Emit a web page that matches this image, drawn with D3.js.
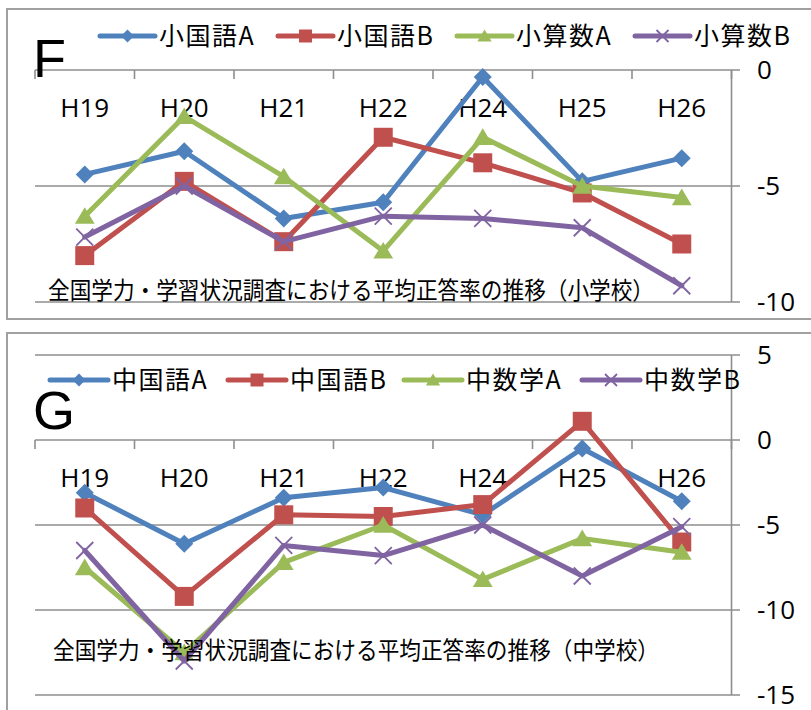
<!DOCTYPE html>
<html lang="ja">
<head>
    <meta charset="UTF-8">
    <title>全国学力・学習状況調査における平均正答率の推移</title>
    <script src="https://d3js.org/d3.v7.min.js"></script>
    <style>
        body { margin: 0; background: #fff; }
        svg { display: block; }
        .grid { stroke: #8e8e8e; stroke-width: 1.6; }
        .tick-label { font: 26px "Open Sans", sans-serif; fill: #000; }
        .legend-label { font: 25px "Noto Sans CJK JP", sans-serif; letter-spacing: 1.5px; fill: #000; }
        .caption { font: 24px "Noto Sans CJK JP", sans-serif; fill: #000; }
        .panel-letter { font: 54px "Liberation Sans", sans-serif; fill: #000; }
        .series-line { fill: none; stroke-width: 5; stroke-linejoin: round; stroke-linecap: round; }
    </style>
</head>
<body>
<svg width="811" height="710"></svg>

<script>
    // 年度
    const years = ["H19", "H20", "H21", "H22", "H24", "H25", "H26"];

    // 小学校
    const shoNames = ["小国語A", "小国語B", "小算数A", "小算数B"];
    const shoKokugoA = [-4.5, -3.5, -6.4, -5.7, -0.3, -4.8, -3.8];
    const shoKokugoB = [-8.0, -4.8, -7.4, -2.9, -4.0, -5.3, -7.5];
    const shoSansuA  = [-6.3, -2.0, -4.6, -7.8, -2.9, -5.0, -5.5];
    const shoSansuB  = [-7.2, -5.0, -7.4, -6.3, -6.4, -6.8, -9.3];
    const shoTicks = [0, -5, -10];

    // 中学校
    const chuNames = ["中国語A", "中国語B", "中数学A", "中数学B"];
    const chuKokugoA = [-3.1, -6.1, -3.4, -2.8, -4.4, -0.5, -3.6];
    const chuKokugoB = [-4.0, -9.2, -4.4, -4.5, -3.8, 1.1, -6.0];
    const chuSugakuA = [-7.5, -12.5, -7.2, -5.0, -8.2, -5.8, -6.6];
    const chuSugakuB = [-6.5, -13.0, -6.2, -6.8, -5.0, -8.0, -5.1];
    const chuTicks = [5, 0, -5, -10, -15];

    const colors = ["#4f81bd", "#c0504d", "#9bbb59", "#8064a2"];
    const shapes = ["diamond", "square", "triangle", "cross"];

    const svg = d3.select("svg");

    function markerPath(shape, s) {
        if (shape === "diamond") return `M0,${-s}L${s},0L0,${s}L${-s},0Z`;
        if (shape === "square") return `M${-s},${-s}H${s}V${s}H${-s}Z`;
        if (shape === "triangle") return `M0,${-s}L${s * 1.1},${s * 0.85}L${-s * 1.1},${s * 0.85}Z`;
        return `M${-s},${-s}L${s},${s}M${-s},${s}L${s},${-s}`;
    }

    function drawMarker(g, shape, color, s) {
        const p = g.append("path").attr("d", markerPath(shape, s));
        if (shape === "cross") p.attr("fill", "none").attr("stroke", color).attr("stroke-width", 1.8);
        else p.attr("fill", color);
    }

    function drawPanel(opt) {
        const g = svg.append("g");

        // 外枠
        g.append("rect")
            .attr("x", 7).attr("y", opt.boxTop)
            .attr("width", 830).attr("height", opt.boxHeight)
            .attr("fill", "#fff").attr("stroke", "#a0a0a0").attr("stroke-width", 2);

        const x = d3.scaleBand().domain(years).range([35, 731.5]);
        const y = d3.scaleLinear().domain(opt.domain).range(opt.range);

        // 目盛線
        g.selectAll(".grid").data(opt.ticks).enter().append("line")
            .attr("class", "grid")
            .attr("x1", 35).attr("x2", 740)
            .attr("y1", d => y(d)).attr("y2", d => y(d));

        // 縦軸（右）
        g.append("line").attr("class", "grid")
            .attr("x1", 731.5).attr("x2", 731.5)
            .attr("y1", y(opt.domain[1])).attr("y2", y(opt.domain[0]));

        // 横軸の目盛（0の位置）
        const edges = years.map(d => x(d)).concat([x(years[6]) + x.bandwidth()]);
        g.selectAll(".xtick").data(edges).enter().append("line")
            .attr("class", "grid")
            .attr("x1", d => d).attr("x2", d => d)
            .attr("y1", y(0)).attr("y2", y(0) + 9);

        g.selectAll(".xlabel").data(years).enter().append("text")
            .attr("class", "tick-label")
            .attr("text-anchor", "middle")
            .attr("x", d => x(d) + x.bandwidth() / 2)
            .attr("y", y(0) + 47)
            .text(d => d);

        g.selectAll(".ylabel").data(opt.ticks).enter().append("text")
            .attr("class", "tick-label")
            .attr("x", 757)
            .attr("y", d => y(d) + 9)
            .text(d => String(d));

        // 系列
        opt.series.forEach((vals, i) => {
            const line = d3.line()
                .x((d, j) => x(years[j]) + x.bandwidth() / 2)
                .y(d => y(d));
            g.append("path")
                .attr("class", "series-line")
                .attr("stroke", colors[i])
                .attr("d", line(vals));
            vals.forEach((v, j) => {
                const m = g.append("g")
                    .attr("transform", `translate(${x(years[j]) + x.bandwidth() / 2},${y(v)})`);
                drawMarker(m, shapes[i], colors[i], shapes[i] === "square" ? 9.5 : shapes[i] === "cross" ? 8.5 : 9);
            });
        });

        // 凡例
        opt.names.forEach((name, i) => {
            const tx = opt.legendX[i];
            const lg = g.append("g");
            lg.append("line")
                .attr("x1", tx - opt.legendLine).attr("x2", tx - 4)
                .attr("y1", opt.legendY).attr("y2", opt.legendY)
                .attr("stroke", colors[i]).attr("stroke-width", 5).attr("stroke-linecap", "round");
            const m = lg.append("g")
                .attr("transform", `translate(${tx - 4 - (opt.legendLine - 4) / 2},${opt.legendY})`);
            drawMarker(m, shapes[i], colors[i], shapes[i] === "cross" ? 6 : 6.5);
            lg.append("text")
                .attr("class", "legend-label")
                .attr("x", tx).attr("y", opt.legendY + 9)
                .text(name);
        });

        g.append("text")
            .attr("class", "panel-letter")
            .attr("x", 33).attr("y", opt.letterY)
            .text(opt.letter);

        g.append("text")
            .attr("class", "caption")
            .attr("x", opt.captionX).attr("y", opt.captionY)
            .attr("textLength", 606).attr("lengthAdjust", "spacingAndGlyphs")
            .text(opt.caption);
    }

    drawPanel({
        boxTop: 9, boxHeight: 310,
        domain: [-10, 0], range: [302, 70], ticks: shoTicks,
        series: [shoKokugoA, shoKokugoB, shoSansuA, shoSansuB],
        names: shoNames,
        legendX: [159, 337, 516, 694], legendY: 36, legendLine: 59,
        letter: "F", letterY: 77,
        caption: "全国学力・学習状況調査における平均正答率の推移（小学校）",
        captionX: 48, captionY: 299
    });

    drawPanel({
        boxTop: 333, boxHeight: 400,
        domain: [-15, 5], range: [695, 355], ticks: chuTicks,
        series: [chuKokugoA, chuKokugoB, chuSugakuA, chuSugakuB],
        names: chuNames,
        legendX: [112, 290, 466, 644], legendY: 380, legendLine: 62,
        letter: "G", letterY: 429,
        caption: "全国学力・学習状況調査における平均正答率の推移（中学校）",
        captionX: 53, captionY: 659
    });
</script>

</body>
</html>
